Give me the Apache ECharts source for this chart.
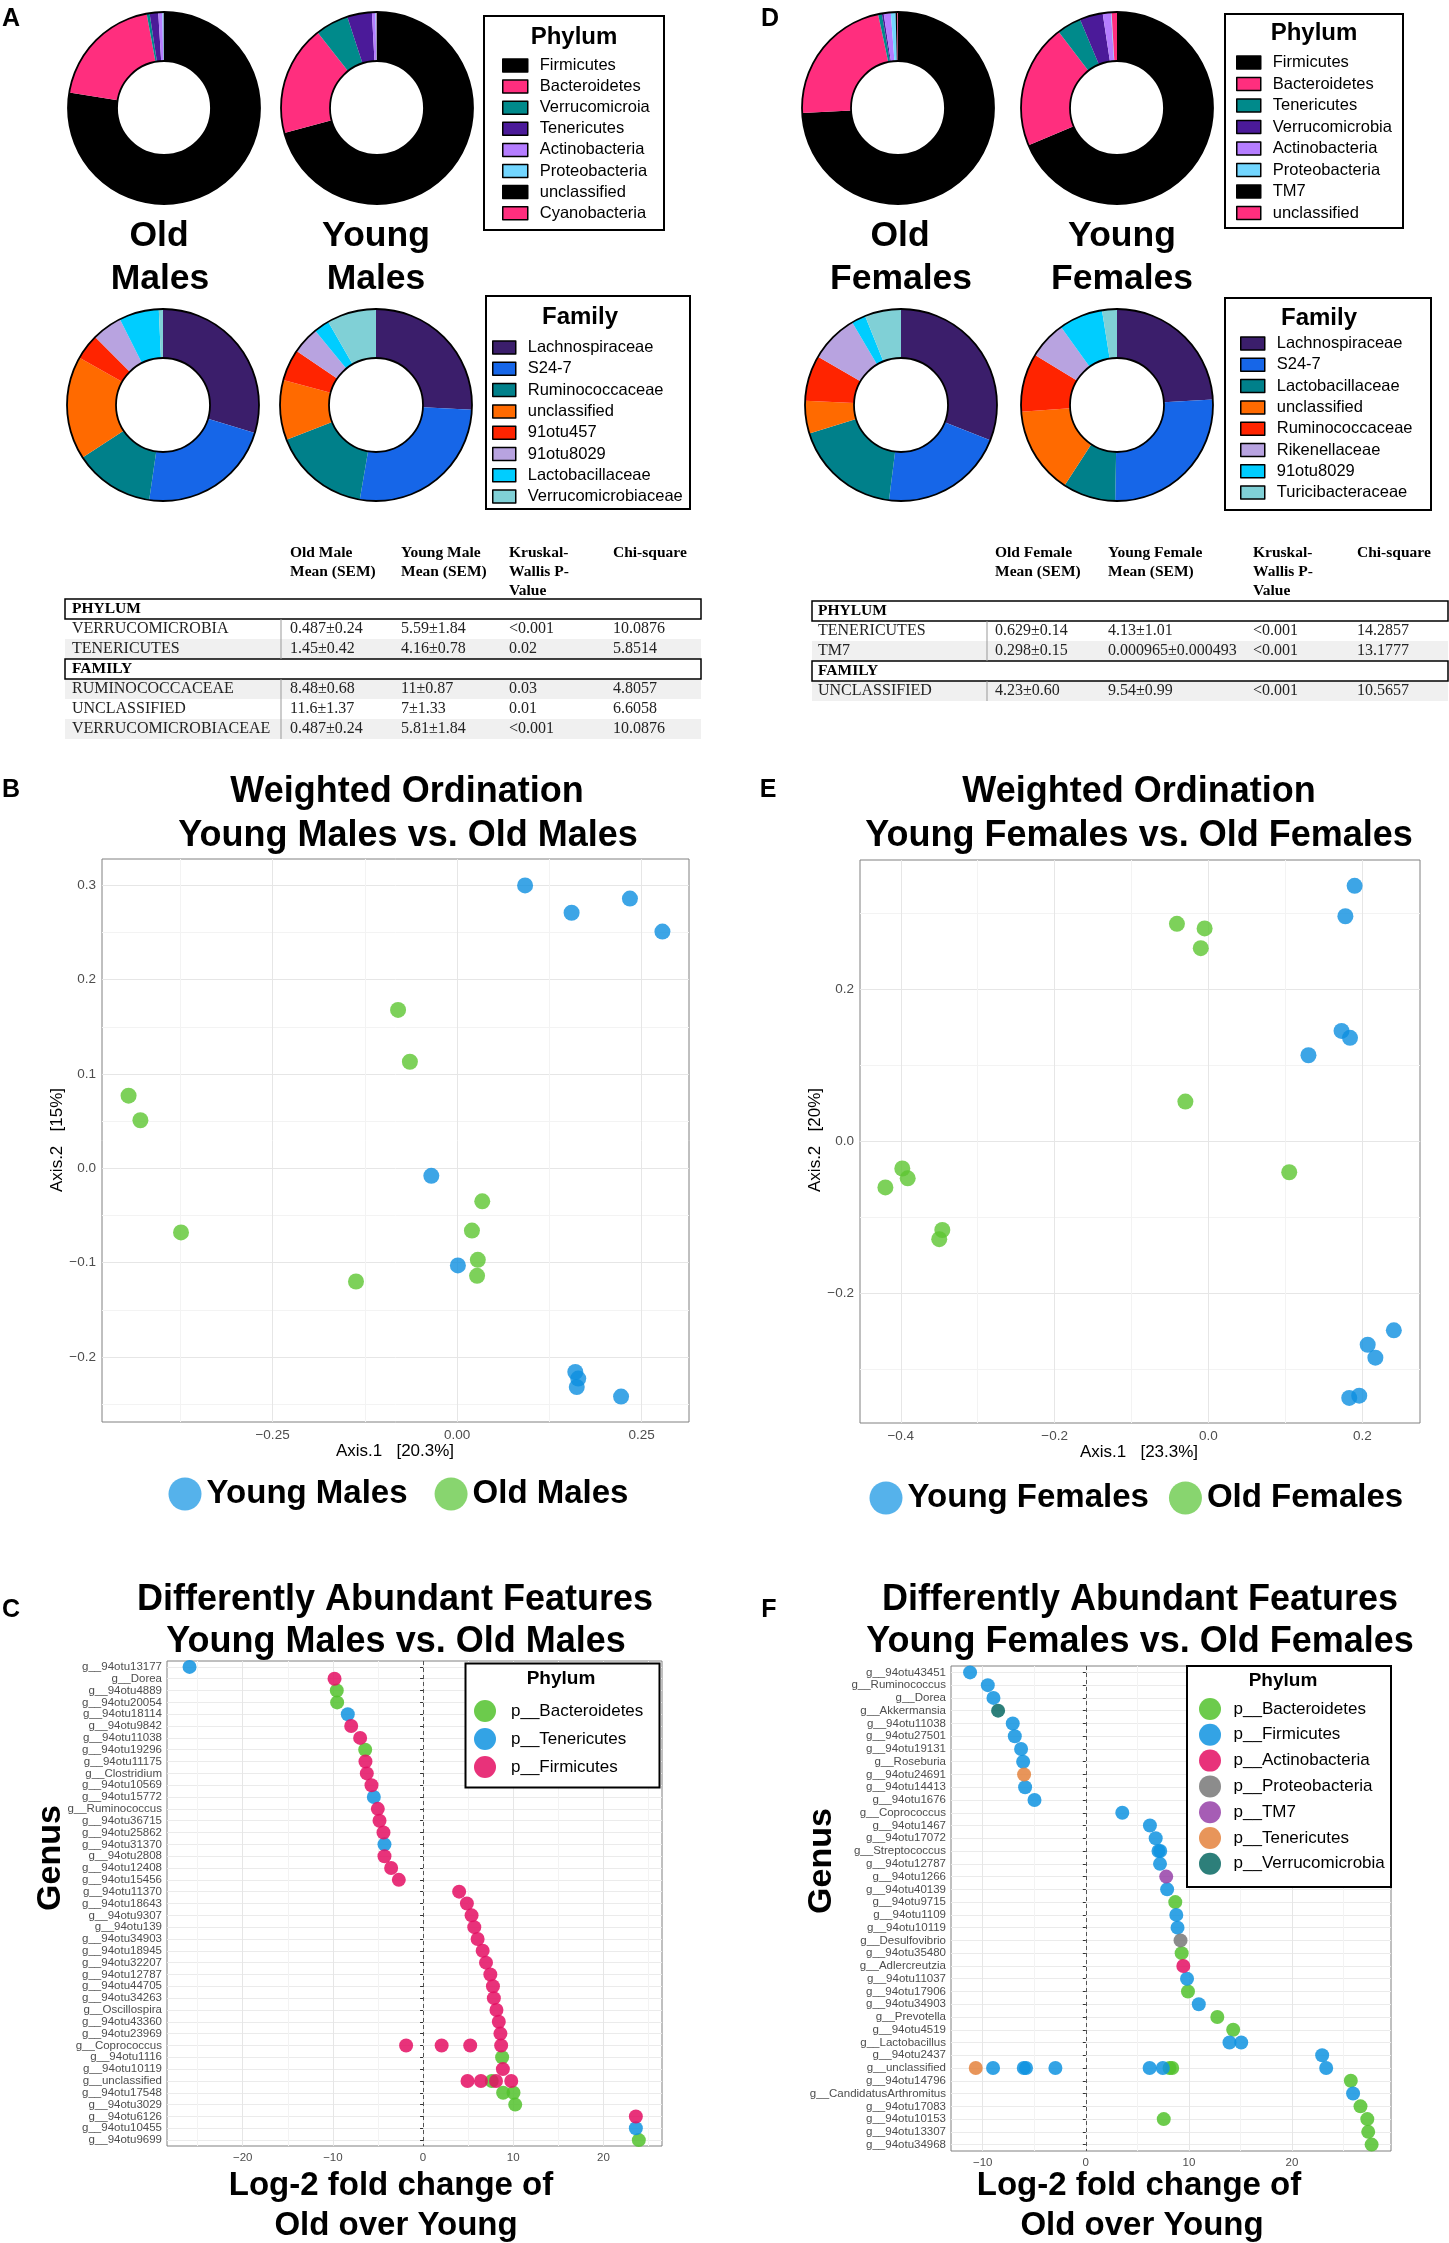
<!DOCTYPE html>
<html>
<head>
<meta charset="utf-8">
<title>Gut microbiome: old vs young</title>
<script src="https://cdn.jsdelivr.net/npm/echarts@6/dist/echarts.min.js"></script>
<style>
html, body { margin: 0; padding: 0; background: #fff; overflow: hidden; }
#chart { width: 1449px; height: 2243px; }
</style>
</head>
<body>
<div id="chart"></div>
<script>
// composition, percent of reads
var malePhyla = ['Firmicutes', 'Bacteroidetes', 'Verrucomicroia', 'Tenericutes', 'Actinobacteria', 'Proteobacteria', 'unclassified', 'Cyanobacteria'];
var oldMalesPhylum = [77.6, 19.5, 0.49, 1.45, 0.7, 0.2, 0.04, 0.02];
var youngMalesPhylum = [70.8, 18.6, 5.59, 4.16, 0.6, 0.15, 0.05, 0.05];
var maleFamilies = ['Lachnospiraceae', 'S24-7', 'Ruminococcaceae', 'unclassified', '91otu457', '91otu8029', 'Lactobacillaceae', 'Verrucomicrobiaceae'];
var oldMalesFamily = [29.7, 22.6, 13.5, 17.4, 4.3, 5.1, 6.7, 0.7];
var youngMalesFamily = [25.8, 26.9, 16.4, 10.1, 5.3, 4.6, 2.6, 8.3];

var femalePhyla = ['Firmicutes', 'Bacteroidetes', 'Tenericutes', 'Verrucomicrobia', 'Actinobacteria', 'Proteobacteria', 'TM7', 'unclassified'];
var oldFemalesPhylum = [74.1, 22.5, 0.63, 0.3, 1.2, 0.8, 0.3, 0.1];
var youngFemalesPhylum = [68.8, 21.0, 4.13, 3.9, 1.4, 0.1, 0.001, 0.9];
var femaleFamilies = ['Lachnospiraceae', 'S24-7', 'Lactobacillaceae', 'unclassified', 'Ruminococcaceae', 'Rikenellaceae', '91otu8029', 'Turicibacteraceae'];
var oldFemalesFamily = [31.0, 21.0, 18.2, 5.5, 7.7, 8.1, 2.4, 6.1];
var youngFemalesFamily = [24.1, 26.2, 8.9, 14.7, 9.8, 6.4, 7.4, 2.5];

// Kruskal-Wallis tables
var maleHead = [['Old Male', 'Mean (SEM)'], ['Young Male', 'Mean (SEM)'], ['Kruskal-', 'Wallis P-', 'Value'], ['Chi-square']];
var malePhylumRows = [
  ['VERRUCOMICROBIA', '0.487±0.24', '5.59±1.84', '<0.001', '10.0876'],
  ['TENERICUTES', '1.45±0.42', '4.16±0.78', '0.02', '5.8514']
];
var maleFamilyRows = [
  ['RUMINOCOCCACEAE', '8.48±0.68', '11±0.87', '0.03', '4.8057'],
  ['UNCLASSIFIED', '11.6±1.37', '7±1.33', '0.01', '6.6058'],
  ['VERRUCOMICROBIACEAE', '0.487±0.24', '5.81±1.84', '<0.001', '10.0876']
];
var femaleHead = [['Old Female', 'Mean (SEM)'], ['Young Female', 'Mean (SEM)'], ['Kruskal-', 'Wallis P-', 'Value'], ['Chi-square']];
var femalePhylumRows = [
  ['TENERICUTES', '0.629±0.14', '4.13±1.01', '<0.001', '14.2857'],
  ['TM7', '0.298±0.15', '0.000965±0.000493', '<0.001', '13.1777']
];
var femaleFamilyRows = [
  ['UNCLASSIFIED', '4.23±0.60', '9.54±0.99', '<0.001', '10.5657']
];

// weighted ordination, [Axis.1, Axis.2]
var youngMalesOrd = [[0.092, 0.300], [0.155, 0.271], [0.234, 0.286], [0.278, 0.251], [-0.035, -0.008],
  [0.001, -0.103], [0.160, -0.216], [0.164, -0.223], [0.162, -0.232], [0.222, -0.242]];
var oldMalesOrd = [[-0.080, 0.168], [-0.064, 0.113], [-0.445, 0.077], [-0.429, 0.051], [-0.374, -0.068],
  [-0.137, -0.120], [0.034, -0.035], [0.020, -0.066], [0.028, -0.097], [0.027, -0.114]];
var youngFemalesOrd = [[0.190, 0.336], [0.178, 0.296], [0.173, 0.145], [0.184, 0.136], [0.130, 0.113],
  [0.241, -0.249], [0.207, -0.268], [0.217, -0.285], [0.183, -0.338], [0.196, -0.335]];
var oldFemalesOrd = [[-0.041, 0.286], [-0.005, 0.280], [-0.010, 0.254], [-0.030, 0.052], [0.105, -0.041],
  [-0.398, -0.036], [-0.391, -0.049], [-0.420, -0.061], [-0.346, -0.117], [-0.350, -0.129]];

// differently abundant genera, [log2 fold change, genus]
var maleGenus = ['g__94otu13177', 'g__Dorea', 'g__94otu4889', 'g__94otu20054', 'g__94otu18114', 'g__94otu9842',
  'g__94otu11038', 'g__94otu19296', 'g__94otu11175', 'g__Clostridium', 'g__94otu10569', 'g__94otu15772',
  'g__Ruminococcus', 'g__94otu36715', 'g__94otu25862', 'g__94otu31370', 'g__94otu2808', 'g__94otu12408',
  'g__94otu15456', 'g__94otu11370', 'g__94otu18643', 'g__94otu9307', 'g__94otu139', 'g__94otu34903',
  'g__94otu18945', 'g__94otu32207', 'g__94otu12787', 'g__94otu44705', 'g__94otu34263', 'g__Oscillospira',
  'g__94otu43360', 'g__94otu23969', 'g__Coprococcus', 'g__94otu1116', 'g__94otu10119', 'g__unclassified',
  'g__94otu17548', 'g__94otu3029', 'g__94otu6126', 'g__94otu10455', 'g__94otu9699'];
var maleBacteroidetes = [[-9.57, 'g__94otu4889'], [-9.53, 'g__94otu20054'], [-6.42, 'g__94otu19296'],
  [8.77, 'g__94otu1116'], [7.62, 'g__unclassified'], [8.88, 'g__94otu17548'], [10.03, 'g__94otu17548'],
  [10.22, 'g__94otu3029'], [23.93, 'g__94otu9699']];
var maleTenericutes = [[-25.9, 'g__94otu13177'], [-8.35, 'g__94otu18114'], [-5.46, 'g__94otu15772'],
  [-4.28, 'g__94otu31370'], [23.6, 'g__94otu10455']];
var maleFirmicutes = [[-9.82, 'g__Dorea'], [-7.97, 'g__94otu9842'], [-6.98, 'g__94otu11038'],
  [-6.39, 'g__94otu11175'], [-6.24, 'g__Clostridium'], [-5.72, 'g__94otu10569'], [-5.02, 'g__Ruminococcus'],
  [-4.83, 'g__94otu36715'], [-4.39, 'g__94otu25862'], [-4.28, 'g__94otu2808'], [-3.54, 'g__94otu12408'],
  [-2.69, 'g__94otu15456'], [4.00, 'g__94otu11370'], [4.86, 'g__94otu18643'], [5.38, 'g__94otu9307'],
  [5.68, 'g__94otu139'], [6.05, 'g__94otu34903'], [6.61, 'g__94otu18945'], [6.98, 'g__94otu32207'],
  [7.46, 'g__94otu12787'], [7.75, 'g__94otu44705'], [7.85, 'g__94otu34263'], [8.14, 'g__Oscillospira'],
  [8.40, 'g__94otu43360'], [8.58, 'g__94otu23969'], [-1.88, 'g__Coprococcus'], [2.06, 'g__Coprococcus'],
  [5.23, 'g__Coprococcus'], [8.66, 'g__Coprococcus'], [8.85, 'g__94otu10119'], [4.93, 'g__unclassified'],
  [6.42, 'g__unclassified'], [8.09, 'g__unclassified'], [9.78, 'g__unclassified'], [23.6, 'g__94otu6126']];

var femaleGenus = ['g__94otu43451', 'g__Ruminococcus', 'g__Dorea', 'g__Akkermansia', 'g__94otu11038',
  'g__94otu27501', 'g__94otu19131', 'g__Roseburia', 'g__94otu24691', 'g__94otu14413', 'g__94otu1676',
  'g__Coprococcus', 'g__94otu1467', 'g__94otu17072', 'g__Streptococcus', 'g__94otu12787', 'g__94otu1266',
  'g__94otu40139', 'g__94otu9715', 'g__94otu1109', 'g__94otu10119', 'g__Desulfovibrio', 'g__94otu35480',
  'g__Adlercreutzia', 'g__94otu11037', 'g__94otu17906', 'g__94otu34903', 'g__Prevotella', 'g__94otu4519',
  'g__Lactobacillus', 'g__94otu2437', 'g__unclassified', 'g__94otu14796', 'g__CandidatusArthromitus',
  'g__94otu17083', 'g__94otu10153', 'g__94otu13307', 'g__94otu34968'];
var femaleBacteroidetes = [[8.68, 'g__94otu9715'], [9.30, 'g__94otu35480'], [9.91, 'g__94otu17906'],
  [12.76, 'g__Prevotella'], [14.30, 'g__94otu4519'], [8.12, 'g__unclassified'], [8.38, 'g__unclassified'],
  [25.71, 'g__94otu14796'], [26.65, 'g__94otu17083'], [27.31, 'g__94otu10153'], [7.56, 'g__94otu10153'],
  [27.40, 'g__94otu13307'], [27.73, 'g__94otu34968']];
var femaleFirmicutes = [[-11.23, 'g__94otu43451'], [-9.51, 'g__Ruminococcus'], [-8.96, 'g__Dorea'],
  [-7.09, 'g__94otu11038'], [-6.89, 'g__94otu27501'], [-6.28, 'g__94otu19131'], [-6.08, 'g__Roseburia'],
  [-5.89, 'g__94otu14413'], [-4.98, 'g__94otu1676'], [3.54, 'g__Coprococcus'], [6.22, 'g__94otu1467'],
  [6.78, 'g__94otu17072'], [7.05, 'g__Streptococcus'], [7.22, 'g__Streptococcus'], [7.20, 'g__94otu12787'],
  [7.89, 'g__94otu40139'], [8.78, 'g__94otu1109'], [8.90, 'g__94otu10119'], [9.82, 'g__94otu11037'],
  [10.96, 'g__94otu34903'], [13.94, 'g__Lactobacillus'], [15.08, 'g__Lactobacillus'], [22.93, 'g__94otu2437'],
  [-9.00, 'g__unclassified'], [-6.02, 'g__unclassified'], [-5.80, 'g__unclassified'], [-2.95, 'g__unclassified'],
  [6.19, 'g__unclassified'], [7.47, 'g__unclassified'], [23.32, 'g__unclassified'],
  [25.93, 'g__CandidatusArthromitus']];
var femaleActinobacteria = [[9.46, 'g__Adlercreutzia']];
var femaleProteobacteria = [[9.19, 'g__Desulfovibrio']];
var femaleTM7 = [[7.80, 'g__94otu1266']];
var femaleTenericutes = [[-5.99, 'g__94otu24691'], [-10.68, 'g__unclassified']];
var femaleVerrucomicrobia = [[-8.51, 'g__Akkermansia']];

var FONT = '"Liberation Sans", Arial, Helvetica, sans-serif';
var SERIF = '"Liberation Serif", "Times New Roman", serif';
var phylumColors = ['#000000', '#ff2e7e', '#008a8b', '#4b1a99', '#b57dff', '#72d6ff', '#000000', '#ff2e7e'];
var familyColors = ['#3b1e6b', '#1666e8', '#00808a', '#ff6a00', '#ff2400', '#b8a3e0', '#00cdff', '#80d0d6'];
var ordBlue = '#0c8fe0', ordGreen = '#5cc531';
var dotGreen = '#52c22d', dotBlue = '#0f93e0', dotPink = '#e40e63', dotOrange = '#e4823d',
  dotGray = '#787878', dotPurple = '#9641a8', dotTeal = '#086863';

function txt(x, y, s, size, o) {
  o = o || {};
  var a = o.align || 'center';
  return {
    type: 'text', x: x, y: y, z: 100, rotation: o.rotation || 0, silent: true,
    style: {
      text: s, fontSize: size, fontFamily: o.family || FONT, fontWeight: o.weight || 'normal',
      fill: o.color || '#000', align: a, verticalAlign: 'middle', textAlign: a, textVerticalAlign: 'middle'
    }
  };
}
function box(x, y, w, h, fill, stroke, lw, z) {
  return {
    type: 'rect', z: z || 50, silent: true, shape: { x: x, y: y, width: w, height: h },
    style: { fill: fill, stroke: stroke || null, lineWidth: lw || 0 }
  };
}
function vline(x, y1, y2, color) {
  return { type: 'line', z: 60, silent: true, shape: { x1: x, y1: y1, x2: x, y2: y2 }, style: { stroke: color, lineWidth: 1 } };
}
function ring(cx, cy, r) {
  return { type: 'circle', z: 100, silent: true, shape: { cx: cx, cy: cy, r: r }, style: { fill: 'transparent', stroke: '#000', lineWidth: 1.8 } };
}

function donut(cx, cy, names, values, colors) {
  return {
    type: 'pie', center: [cx, cy], radius: [47, 96], startAngle: 90, clockwise: true, silent: true,
    label: { show: false }, labelLine: { show: false }, itemStyle: { borderWidth: 0 },
    emphasis: { disabled: true },
    data: names.map(function (n, i) { return { name: n, value: values[i], itemStyle: { color: colors[i] } }; })
  };
}

function table(head, sections, o) {
  var els = [];
  head.forEach(function (lines, c) {
    lines.forEach(function (s, k) {
      els.push(txt(o.cols[c], o.headY + k * 19, s, 15.5, { align: 'left', family: SERIF, weight: 'bold' }));
    });
  });
  var y = o.top, idx = 0, w = o.x1 - o.x0;
  sections.forEach(function (sec) {
    els.push(box(o.x0, y, w, 20, '#fff', '#000', 1.5, 55));
    els.push(txt(o.labelX, y + 10, sec[0], 15.5, { align: 'left', family: SERIF, weight: 'bold' }));
    y += 20; idx++;
    sec[1].forEach(function (r) {
      if (idx % 2 === 0) els.push(box(o.x0, y, w, 20, '#f0f0f0'));
      els.push(vline(o.divX, y, y + 20, '#999'));
      els.push(txt(o.labelX, y + 10, r[0], 16, { align: 'left', family: SERIF, color: '#222' }));
      for (var c = 1; c < r.length; c++) {
        els.push(txt(o.cols[c - 1], y + 10, r[c], 16, { align: 'left', family: SERIF, color: '#222' }));
      }
      y += 20; idx++;
    });
  });
  return els;
}

function signed(dec) {
  return function (v) {
    var s = Math.abs(v) < 1e-9 ? (0).toFixed(dec) : v.toFixed(dec);
    return s.replace('-', '\u2212');
  };
}
function valueAxis(grid, min, max, ticks, labels, dec, firstMinor, size) {
  var major = '#e6e6e6', minor = '#f3f3f3';
  return {
    type: 'value', gridIndex: grid, min: min, max: max,
    axisLine: { show: false },
    axisTick: { show: false, customValues: ticks },
    axisLabel: { customValues: labels, formatter: signed(dec), color: '#4d4d4d', fontSize: size, fontFamily: FONT, margin: 6 },
    splitLine: { show: true, lineStyle: { color: firstMinor ? [minor, major] : [major, minor], width: 1 } }
  };
}
function genusAxis(grid, names) {
  return {
    type: 'category', gridIndex: grid, data: names, inverse: true, boundaryGap: true,
    axisLine: { show: false },
    axisTick: { show: true, interval: 0, alignWithLabel: true, length: 3, lineStyle: { color: '#333' } },
    axisLabel: { interval: 0, color: '#4d4d4d', fontSize: 11.5, fontFamily: FONT, margin: 5 },
    splitLine: { show: true, interval: 0, alignWithLabel: true, lineStyle: { color: '#ebebeb' } }
  };
}
function ordSeries(name, data, i, color) {
  return { name: name, type: 'scatter', xAxisIndex: i, yAxisIndex: i, data: data, symbolSize: 16, silent: true, itemStyle: { color: color } };
}
function dotSeries(name, data, i, color, zero) {
  var s = {
    name: name, type: 'scatter', xAxisIndex: i, yAxisIndex: i, data: data, symbolSize: 14, silent: true, clip: false,
    itemStyle: { color: color, opacity: 0.85 }
  };
  if (zero) {
    s.markLine = {
      silent: true, symbol: ['none', 'none'], label: { show: false }, animation: false,
      lineStyle: { color: '#555', type: [4, 3], width: 1 }, data: [{ xAxis: 0 }]
    };
  }
  return s;
}
function swatchLegend(names, colors, left, top, w, gap) {
  return {
    z: 120, orient: 'vertical', left: left, top: top, padding: 0, itemWidth: w, itemHeight: 13, itemGap: gap,
    icon: 'rect', selectedMode: false,
    itemStyle: { borderColor: '#000', borderWidth: 1.5 },
    textStyle: { fontSize: 16.5, fontFamily: FONT, color: '#000', lineHeight: 16, padding: [0, 0, 0, 7] },
    data: names.map(function (n, i) { return { name: n, itemStyle: { color: colors[i] } }; })
  };
}
function dotLegend(names, colors, left, top, gap, pad) {
  return {
    z: 120, orient: 'vertical', left: left, top: top, padding: 0, itemWidth: 22, itemHeight: 22, itemGap: gap,
    icon: 'circle', selectedMode: false,
    textStyle: { fontSize: 17, fontFamily: FONT, color: '#000', lineHeight: 17, padding: [0, 0, 0, pad] },
    data: names.map(function (n, i) { return { name: n, itemStyle: { color: colors[i], opacity: 0.85 } }; })
  };
}
function groupLegend(names, colors, left, top, gap) {
  return {
    z: 120, orient: 'horizontal', left: left, top: top, padding: 0, itemWidth: 33, itemHeight: 33, itemGap: gap,
    icon: 'circle', selectedMode: false,
    textStyle: { fontSize: 33, fontWeight: 'bold', fontFamily: FONT, color: '#000', lineHeight: 33 },
    data: names.map(function (n, i) { return { name: n, itemStyle: { color: colors[i] } }; })
  };
}

var graphics = [];
// panel letters
[['A', 11, 19], ['D', 770, 19], ['B', 11, 790], ['E', 768, 790], ['C', 11, 1610], ['F', 769, 1610]].forEach(function (p) {
  graphics.push(txt(p[1], p[2], p[0], 25, { weight: 'bold' }));
});
// donut outlines
[[164, 108], [377, 108], [163, 405], [376, 405], [898, 108], [1117, 108], [901, 405], [1117, 405]].forEach(function (c) {
  graphics.push(ring(c[0], c[1], 96), ring(c[0], c[1], 47));
});
graphics.push(
  txt(159, 236, 'Old', 35.5, { weight: 'bold' }), txt(160, 279, 'Males', 35.5, { weight: 'bold' }),
  txt(376, 236, 'Young', 35.5, { weight: 'bold' }), txt(376, 279, 'Males', 35.5, { weight: 'bold' }),
  txt(900, 236, 'Old', 35.5, { weight: 'bold' }), txt(901, 279, 'Females', 35.5, { weight: 'bold' }),
  txt(1122, 236, 'Young', 35.5, { weight: 'bold' }), txt(1122, 279, 'Females', 35.5, { weight: 'bold' })
);
// legend frames
graphics.push(
  box(484, 16, 180, 214, 'transparent', '#000', 2, 5), txt(574, 37, 'Phylum', 24, { weight: 'bold' }),
  box(486, 296, 204, 213, 'transparent', '#000', 2, 5), txt(580, 317, 'Family', 24, { weight: 'bold' }),
  box(1225, 14, 178, 214, 'transparent', '#000', 2, 5), txt(1314, 33, 'Phylum', 24, { weight: 'bold' }),
  box(1225, 298, 206, 212, 'transparent', '#000', 2, 5), txt(1319, 318, 'Family', 24, { weight: 'bold' }),
  box(465.5, 1663.5, 194, 124, '#fff', '#000', 2, 90), txt(561, 1679, 'Phylum', 19, { weight: 'bold' }),
  box(1187, 1666, 204, 221, '#fff', '#000', 2, 90), txt(1283, 1681, 'Phylum', 19, { weight: 'bold' })
);
graphics = graphics.concat(
  table(maleHead, [['PHYLUM', malePhylumRows], ['FAMILY', maleFamilyRows]],
    { x0: 65, x1: 701, cols: [290, 401, 509, 613], labelX: 72, divX: 281, headY: 553, top: 599 }),
  table(femaleHead, [['PHYLUM', femalePhylumRows], ['FAMILY', femaleFamilyRows]],
    { x0: 812, x1: 1448, cols: [995, 1108, 1253, 1357], labelX: 818, divX: 987, headY: 553, top: 601 })
);
// titles and axis titles
graphics.push(
  txt(407, 792, 'Weighted Ordination', 36, { weight: 'bold' }),
  txt(408, 836, 'Young Males vs. Old Males', 36, { weight: 'bold' }),
  txt(1139, 792, 'Weighted Ordination', 36, { weight: 'bold' }),
  txt(1139, 836, 'Young Females vs. Old Females', 36, { weight: 'bold' }),
  txt(395, 1451, 'Axis.1   [20.3%]', 17),
  txt(57, 1140, 'Axis.2   [15%]', 17, { rotation: Math.PI / 2 }),
  txt(1139, 1452, 'Axis.1   [23.3%]', 17),
  txt(815, 1140, 'Axis.2   [20%]', 17, { rotation: Math.PI / 2 }),
  txt(395, 1600, 'Differently Abundant Features', 36, { weight: 'bold' }),
  txt(396, 1642, 'Young Males vs. Old Males', 36, { weight: 'bold' }),
  txt(1140, 1600, 'Differently Abundant Features', 36, { weight: 'bold' }),
  txt(1140, 1642, 'Young Females vs. Old Females', 36, { weight: 'bold' }),
  txt(391, 2186, 'Log-2 fold change of', 33, { weight: 'bold' }),
  txt(396, 2226, 'Old over Young', 33, { weight: 'bold' }),
  txt(1139, 2186, 'Log-2 fold change of', 33, { weight: 'bold' }),
  txt(1142, 2226, 'Old over Young', 33, { weight: 'bold' }),
  txt(51, 1858, 'Genus', 34, { weight: 'bold', rotation: Math.PI / 2 }),
  txt(822, 1861, 'Genus', 34, { weight: 'bold', rotation: Math.PI / 2 })
);

var gridBase = { show: true, borderColor: '#808080', borderWidth: 1, backgroundColor: 'transparent', containLabel: false, outerBoundsMode: 'none' };
function grid(l, t, w, h) { return Object.assign({ left: l, top: t, width: w, height: h }, gridBase); }

var option = {
  animation: false,
  backgroundColor: '#fff',
  textStyle: { fontFamily: FONT },
  grid: [grid(102, 859, 587, 563), grid(860, 860, 560, 563), grid(167, 1661, 495, 485), grid(951, 1666, 440, 485)],
  xAxis: [
    valueAxis(0, -0.481, 0.314, [-0.375, -0.25, -0.125, 0, 0.125, 0.25], [-0.25, 0, 0.25], 2, true, 13.5),
    valueAxis(1, -0.453, 0.275, [-0.4, -0.3, -0.2, -0.1, 0, 0.1, 0.2], [-0.4, -0.2, 0, 0.2], 1, false, 13.5),
    valueAxis(2, -28.4, 26.5, [-25, -20, -15, -10, -5, 0, 5, 10, 15, 20, 25], [-20, -10, 0, 10, 20], 0, true, 11.5),
    valueAxis(3, -13.08, 29.61, [-10, -5, 0, 5, 10, 15, 20, 25], [-10, 0, 10, 20], 0, false, 11.5)
  ],
  yAxis: [
    valueAxis(0, -0.269, 0.328, [-0.25, -0.2, -0.15, -0.1, -0.05, 0, 0.05, 0.1, 0.15, 0.2, 0.25, 0.3],
      [-0.2, -0.1, 0, 0.1, 0.2, 0.3], 1, true, 13.5),
    valueAxis(1, -0.371, 0.370, [-0.3, -0.2, -0.1, 0, 0.1, 0.2, 0.3], [-0.2, 0, 0.2], 1, true, 13.5),
    genusAxis(2, maleGenus),
    genusAxis(3, femaleGenus)
  ],
  legend: [
    swatchLegend(malePhyla, phylumColors, 502, 57, 25, 4.1),
    swatchLegend(maleFamilies, familyColors, 492, 339, 23, 4.3),
    swatchLegend(femalePhyla, phylumColors, 1236, 54, 24, 4.5),
    swatchLegend(femaleFamilies, familyColors, 1240, 335, 24, 4.3),
    groupLegend(['Young Males', 'Old Males'], ['#2a9fe6', '#6acb4b'], 168.5, 1477.5, 27),
    groupLegend(['Young Females', 'Old Females'], ['#2a9fe6', '#6acb4b'], 869.5, 1481.5, 20),
    dotLegend(['p__Bacteroidetes', 'p__Tenericutes', 'p__Firmicutes'], [dotGreen, dotBlue, dotPink], 474, 1700, 6, 10),
    dotLegend(['p__Bacteroidetes', 'p__Firmicutes', 'p__Actinobacteria', 'p__Proteobacteria', 'p__TM7', 'p__Tenericutes', 'p__Verrucomicrobia'],
      [dotGreen, dotBlue, dotPink, dotGray, dotPurple, dotOrange, dotTeal], 1199, 1698, 3.8, 7.6)
  ],
  graphic: { elements: graphics },
  series: [
    donut(164, 108, malePhyla, oldMalesPhylum, phylumColors),
    donut(377, 108, malePhyla, youngMalesPhylum, phylumColors),
    donut(163, 405, maleFamilies, oldMalesFamily, familyColors),
    donut(376, 405, maleFamilies, youngMalesFamily, familyColors),
    donut(898, 108, femalePhyla, oldFemalesPhylum, phylumColors),
    donut(1117, 108, femalePhyla, youngFemalesPhylum, phylumColors),
    donut(901, 405, femaleFamilies, oldFemalesFamily, familyColors),
    donut(1117, 405, femaleFamilies, youngFemalesFamily, familyColors),
    ordSeries('Young Males', youngMalesOrd, 0, ordBlue),
    ordSeries('Old Males', oldMalesOrd, 0, ordGreen),
    ordSeries('Young Females', youngFemalesOrd, 1, ordBlue),
    ordSeries('Old Females', oldFemalesOrd, 1, ordGreen),
    dotSeries('p__Bacteroidetes', maleBacteroidetes, 2, dotGreen, true),
    dotSeries('p__Tenericutes', maleTenericutes, 2, dotBlue),
    dotSeries('p__Firmicutes', maleFirmicutes, 2, dotPink),
    dotSeries('p__Bacteroidetes', femaleBacteroidetes, 3, dotGreen, true),
    dotSeries('p__Firmicutes', femaleFirmicutes, 3, dotBlue),
    dotSeries('p__Actinobacteria', femaleActinobacteria, 3, dotPink),
    dotSeries('p__Proteobacteria', femaleProteobacteria, 3, dotGray),
    dotSeries('p__TM7', femaleTM7, 3, dotPurple),
    dotSeries('p__Tenericutes', femaleTenericutes, 3, dotOrange),
    dotSeries('p__Verrucomicrobia', femaleVerrucomicrobia, 3, dotTeal)
  ]
};

var chart = echarts.init(document.getElementById('chart'), null, { renderer: 'canvas', width: 1449, height: 2243 });
chart.setOption(option);
</script>
</body>
</html>
